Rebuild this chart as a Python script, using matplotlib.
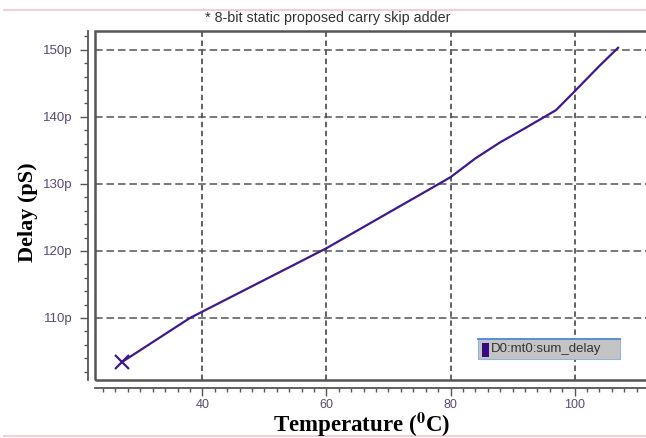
import numpy as np
import matplotlib
matplotlib.use('Agg')
import matplotlib.pyplot as plt
from matplotlib.patches import Rectangle
from matplotlib.lines import Line2D

plt.rcParams['mathtext.fontset'] = 'stix'

# Daten
temperatur = [27, 38, 49, 60, 70, 77, 80, 84, 88, 92, 97, 100, 104, 107]
delay = [103.4, 110.0, 115.2, 120.4, 125.7, 129.4, 131.0, 133.8, 136.2, 138.3, 141.0, 143.8, 147.6, 150.3]
y_ticks = [110, 120, 130, 140, 150]
x_ticks = [40, 60, 80, 100]
titel = "* 8-bit static proposed carry skip adder"
legende = "D0:mt0:sum_delay"

W, H = 646, 438
fig = plt.figure(figsize=(W / 100, H / 100), dpi=100)
ax = fig.add_axes([95 / W, 1 - 380 / H, 1 - 95 / W, (380 - 31) / H])

linie = '#3d1a8e'
ax.plot(temperatur, delay, color=linie, lw=1.6, marker='x', markevery=[0],
        markersize=10, markeredgewidth=1.6)

ax.set_xlim(22.7, 111.5)
ax.set_ylim(100.75, 152.8)

ax.set_xticks(x_ticks)
ax.set_xticks(np.arange(24, 112, 2), minor=True)
ax.set_yticks(y_ticks)
ax.set_yticks(np.arange(102, 153, 2), minor=True)
ax.set_yticklabels(["{}p".format(v) for v in y_ticks])

ax.grid(True, axis='y', which='major', color='#555555', linestyle=(0, (5, 2.5)), lw=1.1)
ax.grid(True, axis='x', which='major', color='#555555', linestyle=(0, (3, 2)), lw=1.3)

for s in ['top', 'right']:
    ax.spines[s].set_visible(False)
ax.spines['left'].set_position(('outward', 5))
ax.spines['bottom'].set_position(('outward', 6))
ax.spines['left'].set_color('#555555')
ax.spines['bottom'].set_color('#555555')
ax.spines['left'].set_linewidth(1.3)
ax.spines['bottom'].set_linewidth(1.3)

ax.tick_params(axis='y', which='major', length=6, width=1, color='#555555',
               labelsize=9.5, labelcolor='#5a4a70', pad=5)
ax.tick_params(axis='y', which='minor', length=3, width=1, color='#555555')
ax.tick_params(axis='x', which='major', length=6, width=1, color='#555555',
               labelsize=9, labelcolor='#5a4a70', pad=2)
ax.tick_params(axis='x', which='minor', length=3, width=1, color='#555555')
for lab in ax.get_xticklabels() + ax.get_yticklabels():
    lab.set_fontfamily('Liberation Sans')

# Rahmen des Plotbereichs
ax.add_patch(Rectangle((0, 0), 1.02, 1, transform=ax.transAxes, fill=False,
                       edgecolor='#555555', lw=1.8, clip_on=False))

fig.text(362 / W, 1 - 425 / H, r'Temperature ($^\mathbf{0}$C)',
         fontfamily='Liberation Serif', fontweight='bold', fontsize=16.5,
         ha='center', va='center')
fig.text(28 / W, 1 - 212 / H, 'Delay (pS)', fontfamily='Liberation Serif',
         fontweight='bold', fontsize=16, rotation=90, ha='center', va='center')

fig.text(328 / W, 1 - 18 / H, titel, ha='center', va='center', fontsize=10.3,
         color='#333333', fontfamily='Liberation Sans')

# Legende
fig.patches.append(Rectangle((478 / W, 1 - 359 / H), 142 / W, 20 / H,
                             transform=fig.transFigure, facecolor='#c4c4c4',
                             edgecolor='#8fb4e0', lw=0.8))
fig.lines.append(Line2D([478 / W, 620 / W], [1 - 339 / H, 1 - 339 / H],
                        transform=fig.transFigure, color='#5a8ed4', lw=1.4))
fig.patches.append(Rectangle((482 / W, 1 - 357 / H), 7 / W, 14 / H,
                             transform=fig.transFigure, facecolor='#3a0a80',
                             edgecolor='none'))
fig.text(491 / W, 1 - 349 / H, legende, ha='left', va='center', fontsize=9.5,
         color='#333333', fontfamily='Liberation Sans')

# rosa Linien oben und unten
fig.lines.append(Line2D([4 / W, 1], [1 - 10 / H, 1 - 10 / H],
                        transform=fig.transFigure, color='#f5c4cc', lw=1.2))
fig.lines.append(Line2D([4 / W, 1], [1 - 436 / H, 1 - 436 / H],
                        transform=fig.transFigure, color='#f5c4cc', lw=1.2))

fig.savefig('out.png', dpi=100)
